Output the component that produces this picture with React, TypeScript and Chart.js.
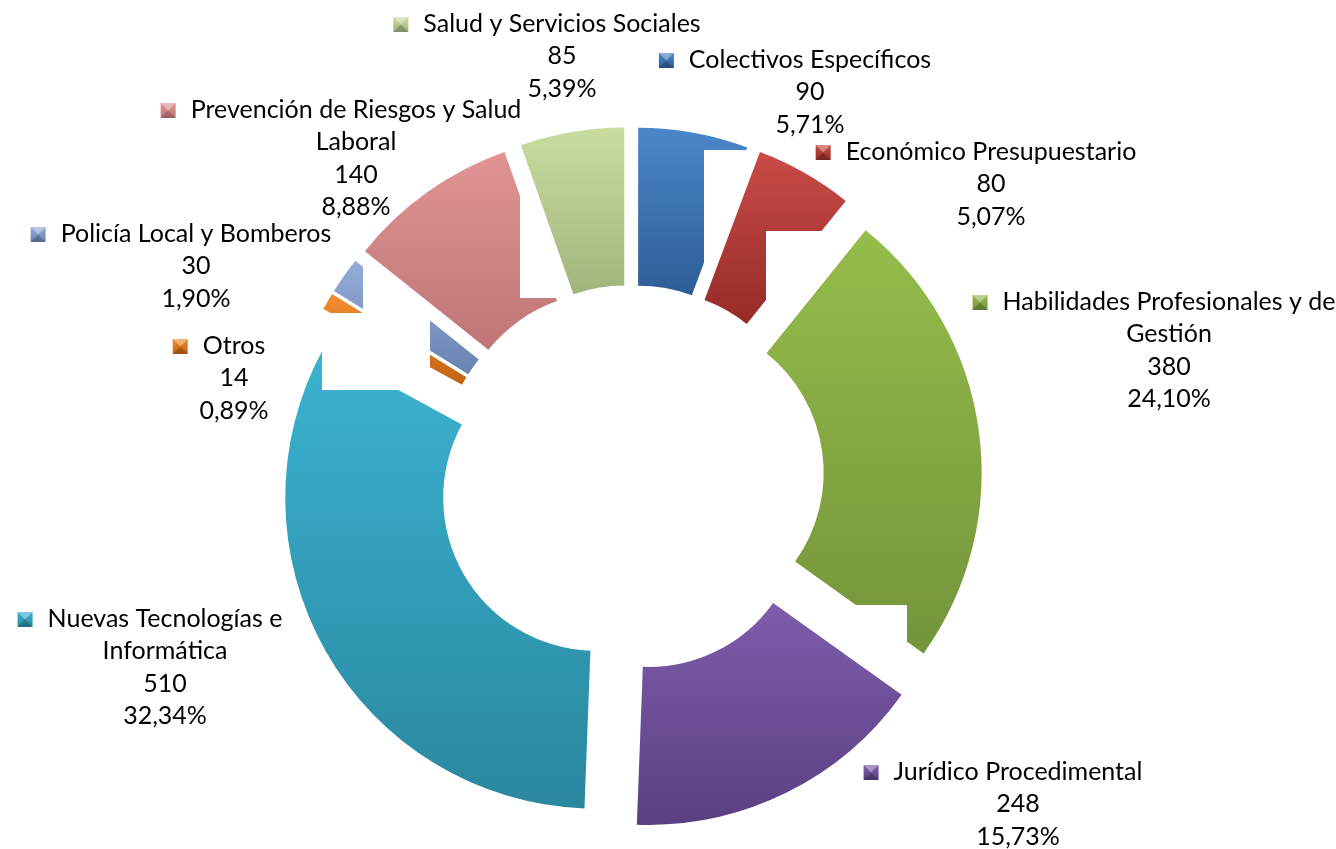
import React, { useEffect, useRef } from 'react';
import { Chart, registerables } from 'chart.js';

Chart.register(...registerables);

// ---- data ----
const categories = [
  'Colectivos Específicos',
  'Económico Presupuestario',
  'Habilidades Profesionales y de Gestión',
  'Jurídico Procedimental',
  'Nuevas Tecnologías e Informática',
  'Otros',
  'Policía Local y Bomberos',
  'Prevención de Riesgos y Salud Laboral',
  'Salud y Servicios Sociales',
];
const values = [90, 80, 380, 248, 510, 14, 30, 140, 85];
// how each category name wraps inside its data label
const labelLines = [
  ['Colectivos Específicos'],
  ['Económico Presupuestario'],
  ['Habilidades Profesionales y de', 'Gestión'],
  ['Jurídico Procedimental'],
  ['Nuevas Tecnologías e', 'Informática'],
  ['Otros'],
  ['Policía Local y Bomberos'],
  ['Prevención de Riesgos y Salud', 'Laboral'],
  ['Salud y Servicios Sociales'],
];

// ---- styles ----
const topColors = ['#4b87c9', '#c94b47', '#96bc4b', '#7e5dac', '#3bb3d2', '#f28c2e', '#94add9', '#e19494', '#c9dd9f'];
const bottomColors = ['#2d5d96', '#952b28', '#74943a', '#5a4081', '#2a879e', '#c26413', '#6a82b0', '#bf7676', '#a1b47d'];
const EXPLODE = 40;
const LINE_H = 32.3;
const FONT = '25px Lato, "Open Sans", sans-serif';
// label placement: text centre x and first-line centre y, relative to the chart centre
const labelDX = [179, 360, 538, 387, -466, -397, -435, -275, -69];
const labelDY = [-418, -326, -176, 294, 141, -132, -244, -368, -454];
// white boxes from the original rendering, drawn after the given slice index
const occluders = [
  { after: 0, x: 704, y: 150, w: 66, h: 150 },
  { after: 1, x: 766, y: 231, w: 104, h: 104 },
  { after: 2, x: 850, y: 605, w: 57, h: 55 },
  { after: 6, x: 363, y: 253, w: 67, h: 137 },
  { after: 6, x: 322, y: 313, w: 108, h: 77 },
  { after: 7, x: 520, y: 190, w: 48, h: 108 },
];

const total = values.reduce((a, b) => a + b, 0);
const fmtPct = (v: number) => ((v / total) * 100).toFixed(2).replace('.', ',') + '%';

function sliceYRange(cy: number, r0: number, r1: number, a0: number, a1: number) {
  const ys: number[] = [];
  for (const r of [r0, r1]) {
    ys.push(cy + r * Math.sin(a0), cy + r * Math.sin(a1));
    for (let k = -2; k <= 4; k++) {
      const a = -Math.PI / 2 + k * Math.PI;
      if (a > a0 && a < a1) ys.push(cy + r * Math.sin(a));
    }
  }
  return [Math.min(...ys), Math.max(...ys)];
}

const explodePlugin = {
  id: 'explodeSlices',
  afterUpdate(chart: any) {
    const meta = chart.getDatasetMeta(0);
    const ctx = chart.ctx;
    meta.data.forEach((arc: any, i: number) => {
      const mid = (arc.startAngle + arc.endAngle) / 2;
      arc.x += Math.cos(mid) * EXPLODE;
      arc.y += Math.sin(mid) * EXPLODE;
      const [y0, y1] = sliceYRange(arc.y, arc.innerRadius, arc.outerRadius, arc.startAngle, arc.endAngle);
      const g = ctx.createLinearGradient(0, y0, 0, y1);
      g.addColorStop(0, topColors[i]);
      g.addColorStop(1, bottomColors[i]);
      arc.options.backgroundColor = g;
    });
  },
};

const layeredDrawPlugin = {
  id: 'layeredDraw',
  beforeDatasetDraw(chart: any, args: any) {
    const ctx = chart.ctx;
    ctx.save();
    args.meta.data.forEach((arc: any, i: number) => {
      arc.draw(ctx, chart.chartArea);
      occluders
        .filter((o) => o.after === i)
        .forEach((o) => {
          ctx.fillStyle = '#ffffff';
          ctx.fillRect(o.x, o.y, o.w, o.h);
        });
    });
    ctx.restore();
    return false;
  },
};

function drawMarker(ctx: CanvasRenderingContext2D, x: number, y: number, s: number, i: number) {
  const g = ctx.createLinearGradient(0, y, 0, y + s);
  g.addColorStop(0, topColors[i]);
  g.addColorStop(1, bottomColors[i]);
  ctx.fillStyle = g;
  ctx.fillRect(x, y, s, s);
  // bevel facets
  ctx.fillStyle = 'rgba(255,255,255,0.35)';
  ctx.beginPath();
  ctx.moveTo(x, y);
  ctx.lineTo(x + s, y);
  ctx.lineTo(x + s / 2, y + s / 2);
  ctx.closePath();
  ctx.fill();
  ctx.fillStyle = 'rgba(0,0,0,0.2)';
  ctx.beginPath();
  ctx.moveTo(x, y + s);
  ctx.lineTo(x + s, y + s);
  ctx.lineTo(x + s / 2, y + s / 2);
  ctx.closePath();
  ctx.fill();
}

const labelPlugin = {
  id: 'sliceLabels',
  afterDraw(chart: any) {
    const ctx = chart.ctx;
    const area = chart.chartArea;
    const cx = (area.left + area.right) / 2;
    const cy = (area.top + area.bottom) / 2;
    ctx.save();
    ctx.font = FONT;
    ctx.fillStyle = '#000000';
    ctx.textBaseline = 'middle';
    ctx.textAlign = 'center';
    values.forEach((v, i) => {
      const tx = cx + labelDX[i];
      let y = cy + labelDY[i];
      const lines = [...labelLines[i], String(v), fmtPct(v)];
      lines.forEach((line, k) => {
        ctx.fillStyle = '#000000';
        ctx.fillText(line, tx, y);
        if (k === 0) {
          const w = ctx.measureText(line).width;
          drawMarker(ctx, tx - w / 2 - 30, y - 7, 15, i);
        }
        y += LINE_H;
      });
    });
    ctx.restore();
  },
};

export default function App() {
  const ref = useRef<HTMLCanvasElement | null>(null);
  useEffect(() => {
    if (!ref.current) return;
    const chart = new Chart(ref.current, {
      type: 'doughnut',
      data: {
        labels: categories,
        datasets: [
          {
            data: values,
            backgroundColor: topColors.slice(),
            borderWidth: 0,
          },
        ],
      },
      options: {
        responsive: false,
        maintainAspectRatio: false,
        animation: false,
        events: [],
        radius: 311,
        cutout: '49.2%',
        layout: { padding: { left: 0, right: 74, top: 107, bottom: 0 } },
        plugins: { legend: { display: false }, tooltip: { enabled: false } },
      },
      plugins: [explodePlugin, layeredDrawPlugin, labelPlugin],
    });
    return () => chart.destroy();
  }, []);
  return (
    <div style={{ position: 'absolute', left: 0, top: 0, width: 1336, height: 849, background: '#fff' }}>
      <canvas ref={ref} width={1336} height={849} style={{ display: 'block' }} />
    </div>
  );
}
